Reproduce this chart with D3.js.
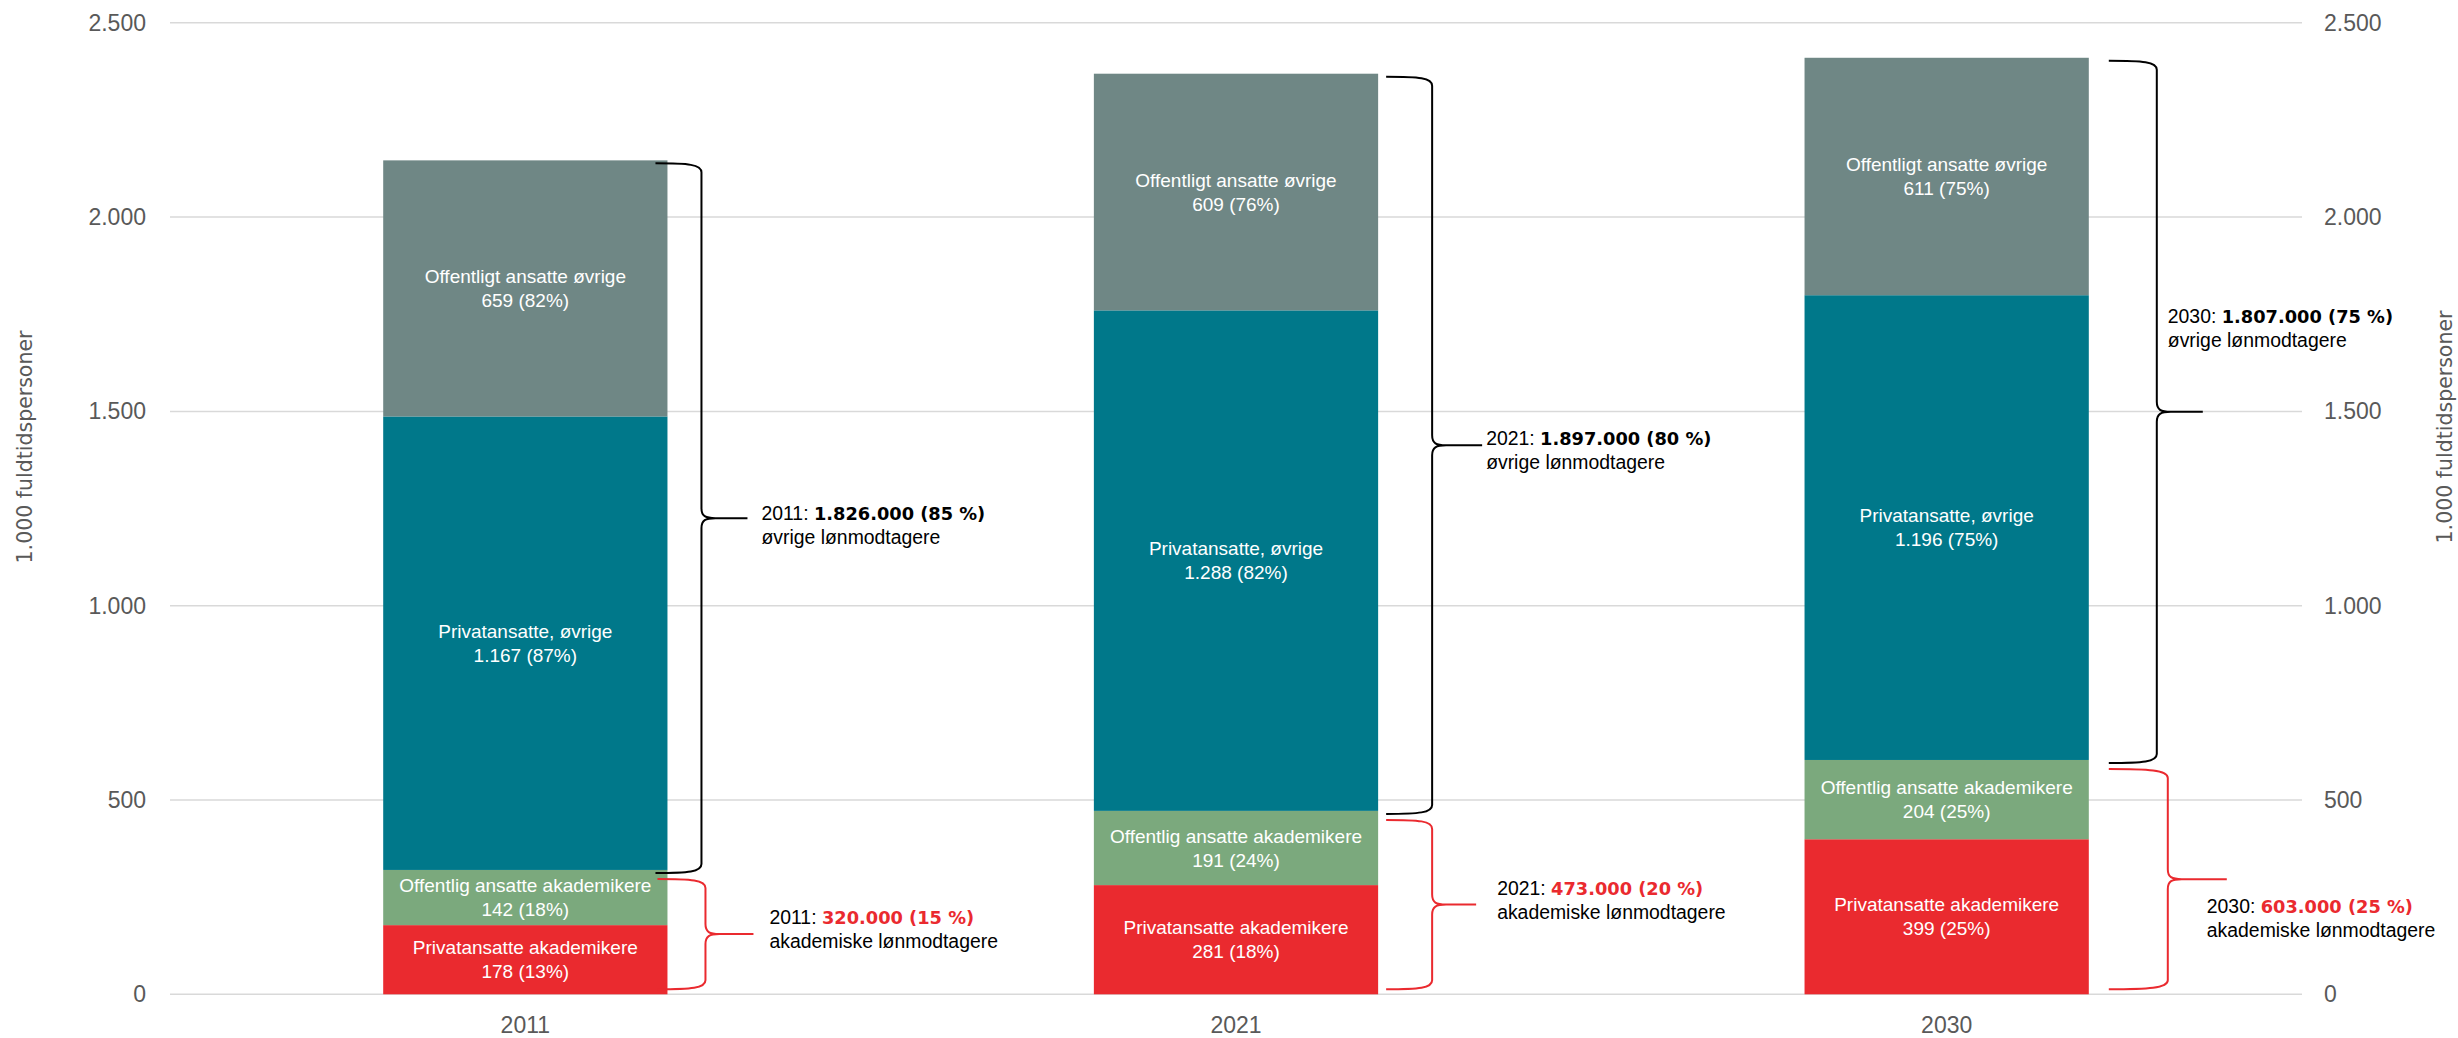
<!DOCTYPE html>
<html>
<head>
<meta charset="utf-8">
<script src="https://cdn.jsdelivr.net/npm/d3@7/dist/d3.min.js"></script>
<style>
  html, body { margin: 0; padding: 0; background: #ffffff; }
  svg { display: block; }
</style>
</head>
<body>
<svg id="chart" width="2458" height="1038"></svg>
<script>
// ---------- DATA ----------
const years = ["2011", "2021", "2030"];
const seriesNames = ["Privatansatte akademikere", "Offentlig ansatte akademikere", "Privatansatte, øvrige", "Offentligt ansatte øvrige"];
const privAkad = [178, 281, 399];
const privAkadPct = [13, 18, 25];
const offAkad = [142, 191, 204];
const offAkadPct = [18, 24, 25];
const privOvr = [1167, 1288, 1196];
const privOvrPct = [87, 82, 75];
const offOvr = [659, 609, 611];
const offOvrPct = [82, 76, 75];
const yTicks = [0, 500, 1000, 1500, 2000, 2500];
const akadTotals = ["320.000", "473.000", "603.000"];
const akadShares = [15, 20, 25];
const ovrTotals = ["1.826.000", "1.897.000", "1.807.000"];
const ovrShares = [85, 80, 75];
const axisTitle = "1.000 fuldtidspersoner";
const akadLabel = "akademiske lønmodtagere";
const ovrLabel = "øvrige lønmodtagere";

// ---------- STYLE / LAYOUT ----------
const colors = ["#EA2A2F", "#7BA97D", "#00788A", "#6F8785"];
const red = "#EA2A2F";
const grey = "#595959";
const plot = { left: 170, right: 2302, top: 22.8, bottom: 994.3 };
// brace layout (offsets relative to bar's right edge)
const braceBlack = { x0: [-12, 8, 20], xv: [34, 54, 68], xt: [80, 104, 114], tx: [94, 108, 79], ty: [-5, -7, -96] };
const braceRed = { x0: [-10, 8, 20], xv: [38, 54, 79], xt: [86, 98, 138], tx: [102, 119, 118], ty: [-17, -16, 27] };

const svg = d3.select("#chart");
const loc = d3.formatLocale({ decimal: ",", thousands: ".", grouping: [3], currency: ["", " kr"] });
const fmt = loc.format(",");

const x = d3.scaleBand().domain(years).range([plot.left, plot.right]).paddingInner(0.6).paddingOuter(0.3);
const y = d3.scaleLinear().domain([0, 2500]).range([plot.bottom, plot.top]);

// gridlines
svg.append("g").selectAll("line").data(yTicks).join("line")
  .attr("x1", plot.left).attr("x2", plot.right)
  .attr("y1", d => y(d)).attr("y2", d => y(d))
  .attr("stroke", "#d9d9d9").attr("stroke-width", 1.5);

// left axis
const yAxisL = d3.axisLeft(y).tickValues(yTicks).tickFormat(fmt).tickSize(0).tickPadding(0);
const gL = svg.append("g").attr("transform", `translate(${plot.left - 24},0)`).call(yAxisL);
gL.select(".domain").remove();
gL.selectAll("text").attr("fill", grey).style("font-family", "'Liberation Sans', Arial, sans-serif").style("font-size", "23px");

// right axis
const yAxisR = d3.axisRight(y).tickValues(yTicks).tickFormat(fmt).tickSize(0).tickPadding(0);
const gR = svg.append("g").attr("transform", `translate(${plot.right + 22},0)`).call(yAxisR);
gR.select(".domain").remove();
gR.selectAll("text").attr("fill", grey).style("font-family", "'Liberation Sans', Arial, sans-serif").style("font-size", "23px");

// x axis
const xAxis = d3.axisBottom(x).tickSize(0).tickPadding(0);
const gX = svg.append("g").attr("transform", `translate(0,${plot.bottom + 22})`).call(xAxis);
gX.select(".domain").remove();
gX.selectAll("text").attr("fill", grey).attr("dy", "0.71em")
  .style("font-family", "'Liberation Sans', Arial, sans-serif").style("font-size", "23px");

// axis titles
svg.append("text").attr("transform", `translate(32,447) rotate(-90)`)
  .attr("text-anchor", "middle").attr("fill", grey)
  .style("font-family", "'DejaVu Sans', Verdana, sans-serif").style("font-size", "20.5px")
  .text(axisTitle);
svg.append("text").attr("transform", `translate(2452,427) rotate(-90)`)
  .attr("text-anchor", "middle").attr("fill", grey)
  .style("font-family", "'DejaVu Sans', Verdana, sans-serif").style("font-size", "20.5px")
  .text(axisTitle);

// stacked bars
const table = years.map((yr, i) => ({
  year: yr,
  s0: privAkad[i], s1: offAkad[i], s2: privOvr[i], s3: offOvr[i],
  p0: privAkadPct[i], p1: offAkadPct[i], p2: privOvrPct[i], p3: offOvrPct[i]
}));
const stack = d3.stack().keys(["s0", "s1", "s2", "s3"])(table);

const layers = svg.append("g").selectAll("g").data(stack).join("g")
  .attr("fill", (d, i) => colors[i]);
layers.selectAll("rect").data(d => d).join("rect")
  .attr("x", d => x(d.data.year))
  .attr("width", x.bandwidth())
  .attr("y", d => y(d[1]))
  .attr("height", d => y(d[0]) - y(d[1]));

// bar labels
stack.forEach((layer, li) => {
  layer.forEach(d => {
    const cx = x(d.data.year) + x.bandwidth() / 2;
    const cy = (y(d[0]) + y(d[1])) / 2;
    const t = svg.append("text").attr("text-anchor", "middle").attr("fill", "#ffffff")
      .style("font-family", "'Liberation Sans', Arial, sans-serif")
      .style("font-size", "19px");
    t.append("tspan").attr("x", cx).attr("y", cy - 12).attr("dy", "0.35em").text(seriesNames[li]);
    t.append("tspan").attr("x", cx).attr("y", cy + 12).attr("dy", "0.35em")
      .text(fmt(d.data["s" + li]) + " (" + d.data["p" + li] + "%)");
  });
});

// braces
function bracePath(x0, xv, xt, y0, y1) {
  const ym = (y0 + y1) / 2;
  const xm = (x0 + xv) / 2 + 10;
  return `M${x0},${y0} C${xm},${y0} ${xv},${y0 + 1} ${xv},${y0 + 9}` +
    ` L${xv},${ym - 10} C${xv},${ym - 2} ${xv + 4},${ym} ${xv + 14},${ym} L${xt},${ym}` +
    ` M${xv + 14},${ym} C${xv + 4},${ym} ${xv},${ym + 2} ${xv},${ym + 10}` +
    ` L${xv},${y1 - 9} C${xv},${y1 - 1} ${xm},${y1} ${x0},${y1}`;
}

function annotText(xp, yp, yearStr, boldStr, line2, boldColor) {
  const t = svg.append("text").attr("fill", "#000000")
    .style("font-family", "'Liberation Sans', Arial, sans-serif").style("font-size", "19.4px");
  const l1 = t.append("tspan").attr("x", xp).attr("y", yp).attr("dy", "0.35em");
  l1.append("tspan").text(yearStr + ": ");
  l1.append("tspan").attr("fill", boldColor).attr("font-weight", "bold")
    .style("font-family", "'DejaVu Sans', Verdana, sans-serif").style("font-size", "17.8px")
    .text(boldStr);
  t.append("tspan").attr("x", xp).attr("y", yp + 24).attr("dy", "0.35em").text(line2);
}

table.forEach((d, i) => {
  const right = x(d.year) + x.bandwidth();
  const total = d.s0 + d.s1 + d.s2 + d.s3;
  const akad = d.s0 + d.s1;
  // black brace (øvrige)
  const b0 = y(total) + 3, b1 = y(akad) + 3;
  svg.append("path").attr("d", bracePath(right + braceBlack.x0[i], right + braceBlack.xv[i], right + braceBlack.xt[i], b0, b1))
    .attr("fill", "none").attr("stroke", "#000000").attr("stroke-width", 2);
  annotText(right + braceBlack.tx[i], (b0 + b1) / 2 + braceBlack.ty[i], d.year,
    ovrTotals[i] + " (" + ovrShares[i] + " %)", ovrLabel, "#000000");
  // red brace (akademiske)
  const r0 = y(akad) + 9, r1 = y(0) - 5;
  svg.append("path").attr("d", bracePath(right + braceRed.x0[i], right + braceRed.xv[i], right + braceRed.xt[i], r0, r1))
    .attr("fill", "none").attr("stroke", red).attr("stroke-width", 2);
  annotText(right + braceRed.tx[i], (r0 + r1) / 2 + braceRed.ty[i], d.year,
    akadTotals[i] + " (" + akadShares[i] + " %)", akadLabel, red);
});
</script>
</body>
</html>
